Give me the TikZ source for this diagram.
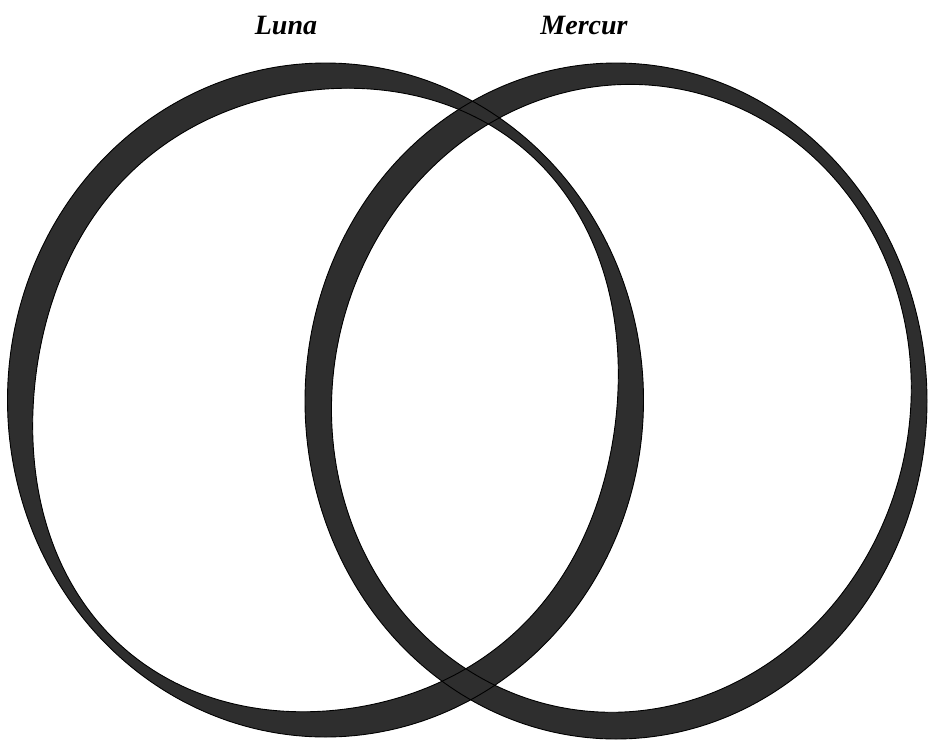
\documentclass[tikz,border=0pt]{standalone}
\usepackage{fontspec}
\setmainfont{Liberation Serif}
\usepackage{tikz}

\begin{document}
\begin{tikzpicture}[
        x=1pt, y=-1pt,
        ringfill/.style={fill=black!82, even odd rule},
        ringline/.style={draw=black, line width=0.9pt},
        planet/.style={font=\bfseries\itshape\fontsize{28}{30}\selectfont, anchor=base, inner sep=0pt},
        declare function={
            wl(\t)=22.5+10*sin(2*\t)+3.5*cos(4*\t);
            wr(\t)=22.75-5.3*cos(\t)+2.5*sin(\t)-1.5*cos(2*\t)+5*sin(2*\t);
        }
    ]
    \useasboundingbox (0,0) rectangle (928,739);

    % Rings
    \fill[ringfill]
        plot[domain=0:357, samples=120, smooth cycle] ({325.5+318*cos(\x)},{400+337*sin(\x)})
        plot[domain=0:357, samples=120, smooth cycle] ({325.5+(318-wl(\x))*cos(\x)},{400+(337-wl(\x))*sin(\x)});
    \fill[ringfill]
        plot[domain=0:357, samples=120, smooth cycle] ({616+311*cos(\x)},{401+338*sin(\x)})
        plot[domain=0:357, samples=120, smooth cycle] ({616+(311-wr(\x))*cos(\x)},{401+(338-wr(\x))*sin(\x)});

    % Outlines
    \draw[ringline]
        plot[domain=0:357, samples=120, smooth cycle] ({325.5+318*cos(\x)},{400+337*sin(\x)})
        plot[domain=0:357, samples=120, smooth cycle] ({325.5+(318-wl(\x))*cos(\x)},{400+(337-wl(\x))*sin(\x)});
    \draw[ringline]
        plot[domain=0:357, samples=120, smooth cycle] ({616+311*cos(\x)},{401+338*sin(\x)})
        plot[domain=0:357, samples=120, smooth cycle] ({616+(311-wr(\x))*cos(\x)},{401+(338-wr(\x))*sin(\x)});

    % Labels
    \node[planet] (luna) at (286,34) {Luna};
    \node[planet] (mercur) at (584,34) {Mercur};
\end{tikzpicture}
\end{document}
